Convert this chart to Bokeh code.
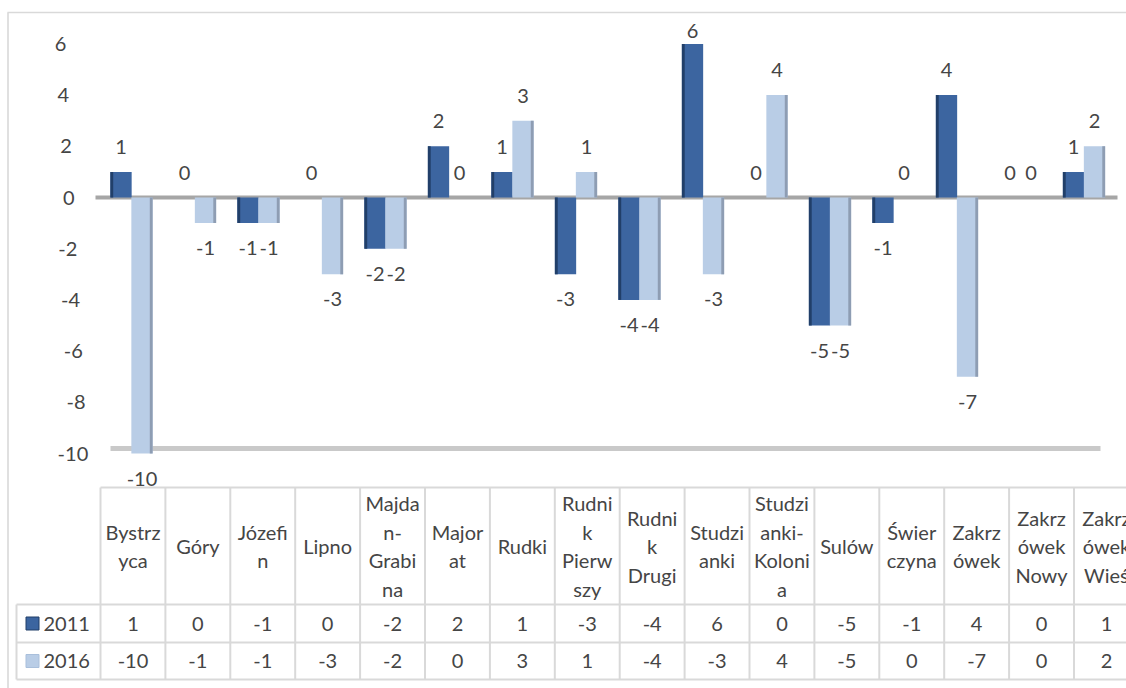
from bokeh.plotting import figure
from bokeh.models import Range1d
from bokeh.core.properties import value
from bokeh.embed import file_html
from bokeh.resources import INLINE

# ---------------- data ----------------
categories = ["Bystrzyca", "Góry", "Józefin", "Lipno", "Majdan-Grabina", "Majorat",
              "Rudki", "Rudnik Pierwszy", "Rudnik Drugi", "Studzianki",
              "Studzianki-Kolonia", "Sulów", "Świerczyna", "Zakrzówek",
              "Zakrzówek Nowy", "Zakrzówek Wieś"]
# header text as wrapped in the data table
header_lines = [["Bystrz", "yca"], ["Góry"], ["Józefi", "n"], ["Lipno"],
                ["Majda", "n-", "Grabi", "na"], ["Major", "at"], ["Rudki"],
                ["Rudni", "k", "Pierw", "szy"], ["Rudni", "k", "Drugi"],
                ["Studzi", "anki"], ["Studzi", "anki-", "Koloni", "a"], ["Sulów"],
                ["Świer", "czyna"], ["Zakrz", "ówek"], ["Zakrz", "ówek", "Nowy"],
                ["Zakrz", "ówek", "Wieś"]]
series_names = ["2011", "2016"]
values_2011 = [1, 0, -1, 0, -2, 2, 1, -3, -4, 6, 0, -5, -1, 4, 0, 1]
values_2016 = [-10, -1, -1, -3, -2, 0, 3, 1, -4, -3, 4, -5, 0, -7, 0, 2]
y_ticks = [6, 4, 2, 0, -2, -4, -6, -8, -10]
y_tick_labels = [str(t) for t in y_ticks]

# ---------------- layout (page pixels) ----------------
W, H = 1126, 688
LEFT, TOP = 0, 0
ZERO_PY = 197.0
PX_UNIT = 25.6
COL0, COL_W = 100.0, 64.9
BAR0, BAR_P = 131.0, 63.5

DARK = "#3c65a0"
DARK_SIDE = "#213f69"
LIGHT = "#b9cde6"
LIGHT_SIDE = "#8e9db3"
GRID = "#d9d9d9"
TXT = "#454545"
FONT = value("Lato")
FS = "20px"


def ty(py):
    return (ZERO_PY - py) / PX_UNIT


def tx(px):
    return (px - (COL0 + COL_W / 2)) / COL_W


def bx(px):
    return (px - BAR0) / BAR_P


p = figure(width=W, height=H,
           x_range=Range1d(tx(LEFT), tx(LEFT + W)),
           y_range=Range1d(ty(TOP + H), ty(TOP)),
           x_axis_type=None, y_axis_type=None,
           toolbar_location=None, output_backend="svg",
           min_border=0)
p.extra_x_ranges = {"bars": Range1d(bx(LEFT), bx(LEFT + W))}
p.outline_line_color = None
p.background_fill_color = "white"
p.border_fill_color = "white"

n = len(categories)
idx = list(range(n))

# chart border (top & left)
p.segment(x0=[tx(7), tx(7.5)], y0=[ty(12), ty(12)],
          x1=[tx(LEFT + W + 5), tx(7.5)], y1=[ty(12), ty(TOP + H + 5)],
          line_color=GRID, line_width=1.6)

# floors of the 3-D plot
p.segment(x0=[tx(110)], y0=[ty(448)], x1=[tx(1100)], y1=[ty(448)],
          line_color="#c9c9c9", line_width=5)
p.segment(x0=[tx(95)], y0=[0], x1=[tx(1117)], y1=[0],
          line_color="#a6a6a6", line_width=4)

# bars
BW = 0.335
dark_x = [i - 0.165 for i in idx]
light_x = [i + 0.165 for i in idx]
p.vbar(x=dark_x, top=values_2011, bottom=0, width=BW, fill_color=DARK,
       line_color=None, x_range_name="bars")
p.vbar(x=[x - BW / 2 + 0.022 for x in dark_x], top=values_2011, bottom=0, width=0.045,
       fill_color=DARK_SIDE, line_color=None, x_range_name="bars")
p.vbar(x=light_x, top=values_2016, bottom=0, width=BW, fill_color=LIGHT,
       line_color=None, x_range_name="bars")
p.vbar(x=[x + BW / 2 - 0.022 for x in light_x], top=values_2016, bottom=0, width=0.045,
       fill_color=LIGHT_SIDE, line_color=None, x_range_name="bars")

# data labels (kept inside the plot area, as the spreadsheet does)
off = 25 / PX_UNIT
y_lab_max = ty(30)
for xs, vals in ((dark_x, values_2011), (light_x, values_2016)):
    p.text(x=xs, y=[min(v + off, y_lab_max) if v >= 0 else v - off for v in vals],
           text=[str(v) for v in vals], x_range_name="bars",
           text_align="center", text_baseline="middle",
           text_font=FONT, text_font_size=FS, text_color=TXT)

# y tick labels (3-D axis slants slightly)
p.text(x=[tx(74 - 1.375 * t) for t in y_ticks], y=y_ticks, text=y_tick_labels,
       text_align="right", text_baseline="middle",
       text_font=FONT, text_font_size=FS, text_color=TXT)

# ---------------- data table ----------------
y_head_top, y_head_bot, y_r1_bot, y_r2_bot = ty(487), ty(604), ty(642), ty(679)
right_end = tx(LEFT + W + 5)
p.segment(x0=[tx(COL0), tx(16), tx(16), tx(16)],
          y0=[y_head_top, y_head_bot, y_r1_bot, y_r2_bot],
          x1=[right_end] * 4,
          y1=[y_head_top, y_head_bot, y_r1_bot, y_r2_bot],
          line_color=GRID, line_width=2)
p.segment(x0=[i - 0.5 for i in range(n + 1)], y0=[y_head_top] * (n + 1),
          x1=[i - 0.5 for i in range(n + 1)], y1=[y_r2_bot] * (n + 1),
          line_color=GRID, line_width=2)
p.segment(x0=[tx(16)], y0=[y_head_bot], x1=[tx(16)], y1=[y_r2_bot],
          line_color=GRID, line_width=2)

hx, hy, ht = [], [], []
for i, lines in enumerate(header_lines):
    m = len(lines)
    for k, s in enumerate(lines):
        hx.append(i)
        hy.append(ty(545.5 + (k - (m - 1) / 2) * 28.5))
        ht.append(s)
p.text(x=hx, y=hy, text=ht, text_align="center", text_baseline="middle",
       text_font=FONT, text_font_size=FS, text_color=TXT)

row_y = [ty(623), ty(660.5)]
for ry, vals in zip(row_y, (values_2011, values_2016)):
    p.text(x=idx, y=[ry] * n, text=[str(v) for v in vals],
           text_align="center", text_baseline="middle",
           text_font=FONT, text_font_size=FS, text_color=TXT)

p.scatter(x=[tx(32)] * 2, y=row_y, marker="square", size=13,
          fill_color=[DARK, LIGHT], line_color=[DARK_SIDE, "#a9bfdb"], line_width=1)
p.text(x=[tx(43)] * 2, y=row_y, text=series_names, text_align="left",
       text_baseline="middle", text_font=FONT, text_font_size=FS, text_color=TXT)

open("out.html", "w").write(file_html(p, INLINE))
